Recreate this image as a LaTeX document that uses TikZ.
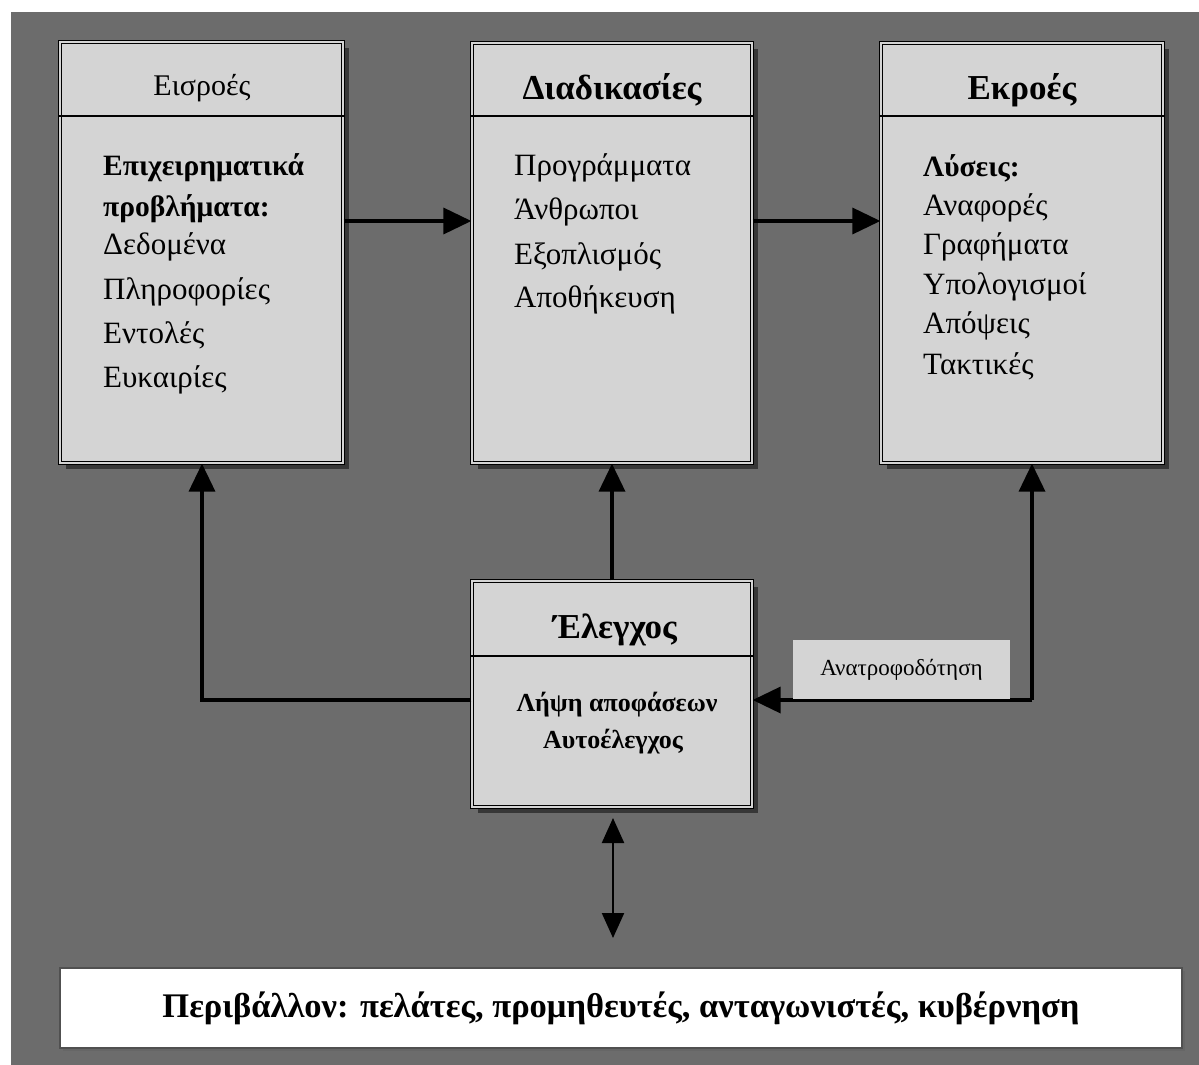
\documentclass[tikz,border=0pt]{standalone}
\usepackage{fontspec}
\setmainfont{Liberation Serif}
\usetikzlibrary{arrows.meta,shadows}
\definecolor{bggray}{RGB}{108,108,108}
\definecolor{boxgray}{RGB}{212,212,212}
\definecolor{shadowgray}{RGB}{55,55,55}
\definecolor{envframe}{RGB}{80,80,80}
\begin{document}
\begin{tikzpicture}[x=1pt,y=-1pt,
  panel/.style={rectangle, draw=black, line width=1.3pt, double=boxgray,
    double distance=1.6pt, fill=boxgray, inner sep=0pt,
    drop shadow={shadow xshift=6pt, shadow yshift=-6pt, fill=shadowgray, opacity=1}},
  sep/.style={draw=black, line width=1.8pt},
  title/.style={font=\fontsize{35}{38}\selectfont\bfseries, inner sep=0pt},
  titlereg/.style={font=\fontsize{30}{34}\selectfont, inner sep=0pt},
  body/.style={font=\fontsize{31}{34}\selectfont, anchor=west, inner sep=0pt},
  bodyb/.style={body, font=\fontsize{29.5}{32}\selectfont\bfseries},
  small/.style={font=\fontsize{26}{30}\selectfont\bfseries, inner sep=0pt},
  conn/.style={draw=black, line width=3.6pt,
    -{Triangle[length=28pt,width=26pt]}},
  biarrow/.style={draw=black, line width=2.2pt,
    {Triangle[length=25pt,width=22pt]}-{Triangle[length=25pt,width=22pt]}},
  fblabel/.style={rectangle, fill=boxgray, inner sep=0pt,
    font=\fontsize{23}{26}\selectfont},
  envbox/.style={rectangle, fill=white, draw=envframe, line width=2.5pt,
    inner sep=0pt, font=\fontsize{34.5}{38}\selectfont\bfseries,
    drop shadow={shadow xshift=3pt, shadow yshift=-3pt, fill=black!60, opacity=1}}
]
% page and background
\useasboundingbox (0,0) rectangle (1199,1065);
\fill[white] (0,0) rectangle (1199,1065);
\fill[bggray] (11,12) rectangle (1199,1065);

% the four panels
\node[panel, minimum width=283pt, minimum height=421pt] (in)   at (201.5,252.5) {};
\node[panel, minimum width=280pt, minimum height=420pt] (proc) at (612,253) {};
\node[panel, minimum width=282pt, minimum height=420pt] (out)  at (1022,253) {};
\node[panel, minimum width=280pt, minimum height=226pt] (ctrl) at (612,694) {};

% header separators
\draw[sep] ([yshift=-75pt]in.north west)   -- ([yshift=-75pt]in.north east);
\draw[sep] ([yshift=-74pt]proc.north west) -- ([yshift=-74pt]proc.north east);
\draw[sep] ([yshift=-74pt]out.north west)  -- ([yshift=-74pt]out.north east);
\draw[sep] ([yshift=-76pt]ctrl.north west) -- ([yshift=-76pt]ctrl.north east);

% titles
\node[titlereg] (inT)   at (202,88) {Εισροές};
\node[title]    (procT) at (612,90) {Διαδικασίες};
\node[title]    (outT)  at (1022,90) {Εκροές};
\node[title]    (ctrlT) at (615,630) {Έλεγχος};

% inputs
\node[bodyb] (in1) at (103,168) {Επιχειρηματικά};
\node[bodyb] (in2) at (103,209) {προβλήματα:};
\node[body]  (in3) at (103,247) {Δεδομένα};
\node[body]  (in4) at (103,292) {Πληροφορίες};
\node[body]  (in5) at (103,335) {Εντολές};
\node[body]  (in6) at (103,380) {Ευκαιρίες};

% processes
\node[body] (pr1) at (514,168) {Προγράμματα};
\node[body] (pr2) at (514,212) {Άνθρωποι};
\node[body] (pr3) at (514,257) {Εξοπλισμός};
\node[body] (pr4) at (514,300) {Αποθήκευση};

% outputs
\node[bodyb] (ou1) at (923,168) {Λύσεις:};
\node[body]  (ou2) at (923,208) {Αναφορές};
\node[body]  (ou3) at (923,247) {Γραφήματα};
\node[body]  (ou4) at (923,287) {Υπολογισμοί};
\node[body]  (ou5) at (923,326) {Απόψεις};
\node[body]  (ou6) at (923,366) {Τακτικές};

% control
\node[small] (ct1) at (617,705) {Λήψη αποφάσεων};
\node[small] (ct2) at (613,742) {Αυτοέλεγχος};

% routing points
\coordinate (row) at (0,221);
\coordinate (lc)  at (202,700);
\coordinate (fb)  at (1032,700);
\coordinate (e1)  at (613,818);
\coordinate (e2)  at (613,938);

% flow connectors
\draw[conn] (in.east |- row) -- (proc.west |- row);
\draw[conn] (proc.east |- row) -- (out.west |- row);
\draw[conn] (ctrl.north) -- (proc.south);
\draw[conn, line join=miter] (ctrl.west |- lc) -- (lc) -- (in.south -| lc);
\draw[conn, line join=miter] (fb) -- (out.south -| fb);
\draw[conn] (fb) -- (ctrl.east |- fb);

% feedback label
\node[fblabel, minimum width=217pt, minimum height=59pt] (fbl) at (901.5,669.5) {Ανατροφοδότηση};

% environment
\draw[biarrow] (e1) -- (e2);
\node[envbox, minimum width=1122pt, minimum height=80pt] (env) at (621,1008)
  {Περιβάλλον: πελάτες, προμηθευτές, ανταγωνιστές, κυβέρνηση};
\end{tikzpicture}
\end{document}
